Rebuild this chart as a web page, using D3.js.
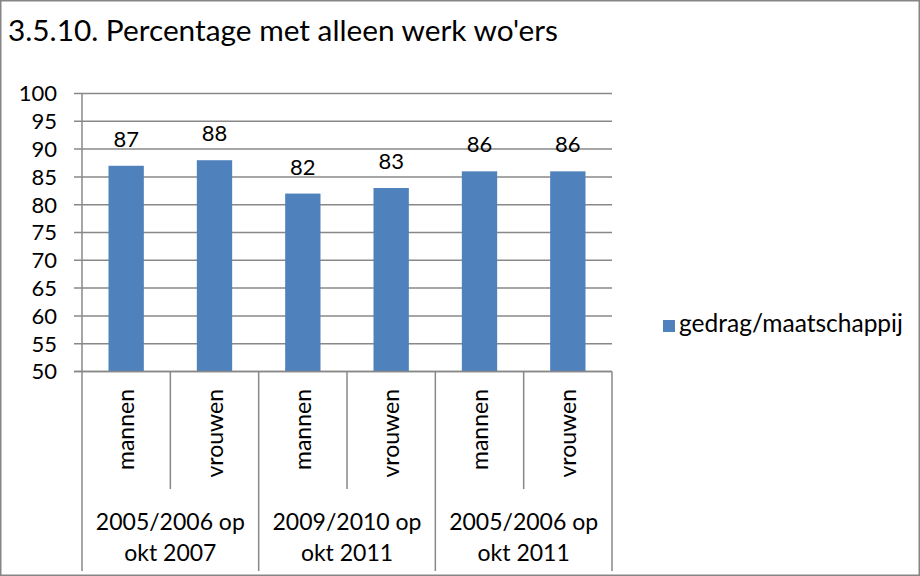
<!DOCTYPE html>
<html>
<head>
<meta charset="utf-8">
<script src="https://cdn.jsdelivr.net/npm/d3@7"></script>
<style>
  body { margin: 0; background: #fff; }
  svg { display: block; font-family: Lato, "Noto Sans", sans-serif; }
</style>
</head>
<body>
<div id="chart"></div>
<script>
// Data
const groups = ["2005/2006 op|okt 2007", "2009/2010 op|okt 2011", "2005/2006 op|okt 2011"];
const genders = ["mannen", "vrouwen"];
const values = [87, 88, 82, 83, 86, 86];
const yTicks = [50, 55, 60, 65, 70, 75, 80, 85, 90, 95, 100];
const seriesName = "gedrag/maatschappij";
const title = "3.5.10. Percentage met alleen werk wo'ers";

const W = 920, H = 576;
const plot = { left: 82, right: 612, top: 93.5, bottom: 371.5 };

// build rows
const rows = [];
groups.forEach((g, gi) => {
    genders.forEach((s, si) => {
        rows.push({ key: gi + "-" + s, group: g, gi: gi, label: s, value: values[gi * 2 + si] });
    });
});

const svg = d3.select("#chart")
    .append("svg")
    .attr("width", W)
    .attr("height", H);

// outer border
svg.append("rect")
    .attr("x", 0.75).attr("y", 0.75)
    .attr("width", W - 1.5).attr("height", H - 1.5)
    .attr("fill", "#fff")
    .attr("stroke", "#868686")
    .attr("stroke-width", 1.5);

// shrink/grow a text so it spans a given width
function fitWidth(sel, target) {
    sel.each(function () {
        const w = this.getComputedTextLength();
        const fs = parseFloat(d3.select(this).style("font-size"));
        d3.select(this).style("font-size", (fs * target / w) + "px");
    });
}

// Title
svg.append("text")
    .attr("x", 8)
    .attr("y", 41)
    .style("font-size", "30px")
    .attr("fill", "#000")
    .text(title)
    .call(fitWidth, 550);

const x = d3.scaleBand()
    .domain(rows.map(d => d.key))
    .range([plot.left, plot.right])
    .paddingInner(0.6)
    .paddingOuter(0.3);

const xStep = (plot.right - plot.left) / rows.length;

const y = d3.scaleLinear()
    .domain([50, 100])
    .range([plot.bottom, plot.top]);

// gridlines + left ticks
svg.append("g")
    .selectAll("line")
    .data(yTicks)
    .join("line")
    .attr("x1", plot.left - 8)
    .attr("x2", plot.right)
    .attr("y1", d => y(d))
    .attr("y2", d => y(d))
    .attr("stroke", "#888")
    .attr("stroke-width", 1.5);

// y labels
svg.append("g")
    .selectAll("text")
    .data(yTicks)
    .join("text")
    .attr("x", 57)
    .attr("y", d => y(d))
    .attr("dy", "0.36em")
    .attr("text-anchor", "end")
    .style("font-size", "22px")
    .text(d => d);

// y axis line (extends down through category labels)
svg.append("line")
    .attr("x1", plot.left).attr("x2", plot.left)
    .attr("y1", plot.top).attr("y2", 571)
    .attr("stroke", "#888").attr("stroke-width", 1.5);

// bars
svg.append("g")
    .selectAll("rect")
    .data(rows)
    .join("rect")
    .attr("x", d => x(d.key))
    .attr("width", x.bandwidth())
    .attr("y", d => y(d.value))
    .attr("height", d => y(50) - y(d.value))
    .attr("fill", "#4F81BD");

// value labels
svg.append("g")
    .selectAll("text")
    .data(rows)
    .join("text")
    .attr("x", d => x(d.key) + x.bandwidth() / 2)
    .attr("y", d => y(d.value) - 19)
    .attr("text-anchor", "middle")
    .style("font-size", "22px")
    .text(d => d.value);

// category dividers
const dividers = d3.range(1, rows.length + 1).map(i => ({ i: i, outer: i % 2 === 0 }));
svg.append("g")
    .selectAll("line")
    .data(dividers)
    .join("line")
    .attr("x1", d => plot.left + d.i * xStep)
    .attr("x2", d => plot.left + d.i * xStep)
    .attr("y1", plot.bottom)
    .attr("y2", d => d.outer ? 571 : 489)
    .attr("stroke", "#888")
    .attr("stroke-width", 1.5);

// x axis line (on top of bars)
svg.append("line")
    .attr("x1", plot.left - 8).attr("x2", plot.right)
    .attr("y1", plot.bottom).attr("y2", plot.bottom)
    .attr("stroke", "#888").attr("stroke-width", 1.5);

// rotated inner labels
svg.append("g")
    .selectAll("text")
    .data(rows)
    .join("text")
    .attr("transform", d => "translate(" + (x(d.key) + x.bandwidth() / 2) + ",389) rotate(-90)")
    .attr("dy", "0.36em")
    .attr("text-anchor", "end")
    .style("font-size", "23px")
    .text(d => d.label);

// group labels
const gLabels = svg.append("g")
    .selectAll("text")
    .data(groups)
    .join("text")
    .attr("text-anchor", "middle")
    .style("font-size", "23px");
gLabels.each(function (g, gi) {
    const cx = plot.left + (gi * 2 + 1) * xStep;
    g.split("|").forEach((line, li) => {
        d3.select(this).append("tspan")
            .attr("x", cx)
            .attr("y", 530 + li * 31)
            .text(line);
    });
});

// legend
svg.append("rect")
    .attr("x", 663).attr("y", 320)
    .attr("width", 12).attr("height", 12)
    .attr("fill", "#4F81BD");
svg.append("text")
    .attr("x", 679)
    .attr("y", 332)
    .style("font-size", "23px")
    .text(seriesName)
    .call(fitWidth, 224);
</script>
</body>
</html>
